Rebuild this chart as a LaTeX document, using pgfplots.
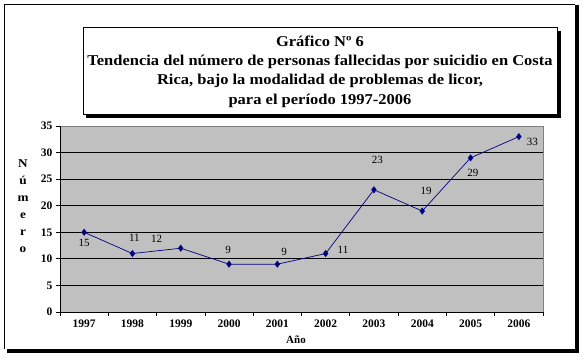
\documentclass[border=0pt]{standalone}
\usepackage{pgfplots}
\pgfplotsset{compat=1.18}
\usepackage{fontspec}
\setmainfont{Liberation Serif}
\newfontfamily\titlefont[FakeStretch=1.1]{Liberation Serif}
\definecolor{plotgray}{HTML}{C0C0C0}
\definecolor{navy}{HTML}{000080}
\definecolor{bordergray}{HTML}{808080}
\begin{document}
\begin{tikzpicture}[x=1pt,y=1pt]
\useasboundingbox (0,0) rectangle (584,359);
% outer frame with shadow
\fill[black] (575,7) rectangle (578.5,354);
\fill[black] (7,6.5) rectangle (578.5,10);
\draw[black, line width=1pt] (4.5,10) -- (4.5,354.5) -- (575,354.5);
% title box with shadow
\fill[black] (86,240.5) rectangle (560.5,328);
\filldraw[fill=white, draw=black, line width=1pt] (83,244) rectangle (557,331);
\node[align=center, font=\titlefont\bfseries\fontsize{15}{19.3}\selectfont] at (320,287.5)
 {Gráfico Nº 6\\Tendencia del número de personas fallecidas por suicidio en Costa\\Rica, bajo la modalidad de problemas de licor,\\para el período 1997-2006};
% y label stacked
\node[align=center, font=\titlefont\bfseries\fontsize{12}{17}\selectfont] at (23,153) {N\\ú\\m\\e\\r\\o};
% x label
\node[font=\bfseries\fontsize{11}{12}\selectfont] at (296,19) {Año};
\begin{axis}[
  at={(60pt,47pt)}, anchor=south west, scale only axis,
  width=483pt, height=186pt,
  xmin=-0.5, xmax=9.5, ymin=0, ymax=35,
  xtick={0,...,9},
  xticklabels={1997,1998,1999,2000,2001,2002,2003,2004,2005,2006},
  ytick={0,5,...,35},
  minor xtick={-0.5,0.5,...,9.5},
  tick align=outside,
  xtick pos=left, ytick pos=left,
  major x tick style={draw=none},
  major tick length=4pt, minor tick length=4pt,
  tick style={black, line width=0.8pt},
  ymajorgrids,
  grid style={black, line width=0.8pt},
  axis background/.style={fill=plotgray},
  axis line style={draw=none},
  ticklabel style={font=\bfseries\fontsize{11.5}{12}\selectfont},
  /pgf/number format/assume math mode=true,
  clip=false,
]
\addplot[navy, line width=0.7pt, mark=diamond*, mark size=3pt, mark options={fill=navy, draw=navy}]
 coordinates {(0,15)(1,11)(2,12)(3,9)(4,9)(5,11)(6,23)(7,19)(8,29)(9,33)};
\draw[bordergray, line width=0.8pt] (axis cs:-0.5,35) -- (axis cs:9.5,35) -- (axis cs:9.5,0);
\draw[black, line width=0.8pt] (axis cs:-0.5,35) -- (axis cs:-0.5,0) -- (axis cs:9.5,0);
\begin{scope}[every node/.style={font=\fontsize{11}{12}\selectfont}]
\node at (axis cs:0,13) {15};
\node at (axis cs:1.04,13.9) {11};
\node at (axis cs:1.5,13.7) {12};
\node at (axis cs:2.98,11.7) {9};
\node at (axis cs:4.14,11.3) {9};
\node at (axis cs:5.36,11.7) {11};
\node at (axis cs:6.07,28.6) {23};
\node at (axis cs:7.08,22.8) {19};
\node at (axis cs:8.05,26.2) {29};
\node at (axis cs:9.28,32) {33};
\end{scope}
\end{axis}
\end{tikzpicture}
\end{document}
